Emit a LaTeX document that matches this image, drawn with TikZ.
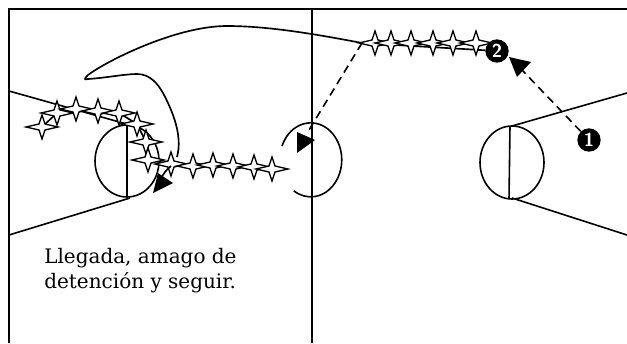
\documentclass[tikz,border=0pt]{standalone}
\usepackage{fontspec}
\setmainfont{DejaVu Serif}

\def\SW{16}   % star half width
\def\SH{12}   % star half height
\def\SI{3}    % star inner corner

\tikzset{
	court/.style={line width=1.5pt},
	keyline/.style={line width=1.2pt},
	dribble/.style={line width=1.25pt},
	dashmove/.style={line width=1.2pt, dash pattern=on 6pt off 4pt},
	tipfill/.style={fill=black, draw=none},
	player/.style={circle, fill=black, inner sep=0pt, minimum size=17.5pt, text=white, font=\sffamily\bfseries\fontsize{14pt}{14pt}\selectfont},
	spark/.pic={
		\draw[line width=1pt, fill=white] (-\SW,0) -- (-\SI,-\SI) -- (0,-\SH) -- (\SI,-\SI) -- (\SW,0)
		-- (\SI,\SI) -- (0,\SH) -- (-\SI,\SI) -- cycle;
	}
}

\begin{document}
\begin{tikzpicture}[x=0.75pt, y=-0.75pt]
	
	% -------------------------------------------------
	% 1. Page size
	% -------------------------------------------------
	\useasboundingbox (0,0) rectangle (627,343);
	
	% -------------------------------------------------
	% 2. Court
	% -------------------------------------------------
	\draw[court] (9,343) -- (9,9) -- (627,9);
	\draw[court] (312,9) -- (312,343);
	
	% left key
	\draw[keyline] (9,91) -- (130,125);
	\draw[keyline] (130,198) -- (9,235);
	\draw[keyline] (127,125) -- (127,197);
	\draw[keyline] (127,161) ellipse (32 and 36);
	
	% right key
	\draw[keyline] (627,93) -- (512,126);
	\draw[keyline] (627,235) -- (512,198);
	\draw[keyline] (510,126) -- (509,199);
	\draw[keyline] (512,162.5) ellipse (32 and 36.5);
	
	% centre circle
	\draw[keyline] (282,146) arc[start angle=202, end angle=483, x radius=31, y radius=37];
	
	% -------------------------------------------------
	% 3. Players and reference points
	% -------------------------------------------------
	\node[player] (P1) at (589,140) {1};
	\node[player] (P2) at (497,51) {2};
	\coordinate (Turn) at (362,43);
	\coordinate (Mid) at (309,130);
	\coordinate (CurveEnd) at (177,157);
	\coordinate (TipOne) at (522,70);
	
	% -------------------------------------------------
	% 4. Dribble
	% -------------------------------------------------
	\draw[dribble] (Turn) -- (P2);
	\draw[dribble] (Turn) .. controls (320,35) and (270,26) .. (227,26)
	.. controls (175,26) and (105,62) .. (88,75)
	.. controls (84,79) and (84,80) .. (88,79)
	.. controls (105,78) and (125,74) .. (137,74)
	.. controls (150,74) and (158,84) .. (163,93)
	.. controls (172,110) and (183,135) .. (CurveEnd);
	\draw[dribble] (42,127) -- (57,113) -- (76,109) -- (98,111) -- (119,113) -- (137,124)
	-- (146,142) -- (148,160) -- (171,164) -- (193,166) -- (213,165) -- (233,166) -- (254,167) -- (272,169);
	
	\foreach \px/\py in {42/127, 57/113, 76/109, 98/111, 119/113, 137/124, 146/142, 148/160,
		171/164, 193/166, 213/165, 233/166, 254/167, 272/169,
		375/43, 391/43, 411/43, 433/43, 453/43, 476/43}
		\pic at (\px,\py) {spark};
	
	% -------------------------------------------------
	% 5. Dashed moves and arrow heads
	% -------------------------------------------------
	\draw[dashmove] (Turn) -- (Mid);
	\draw[dashmove] (P1) -- (TipOne);
	\draw[dribble] (160,180) .. controls (164,173) and (166,170) .. (171,166);
	\fill[tipfill] (509,57) -- (531,62) -- (517,77) -- cycle;
	\fill[tipfill] (315,140) -- (297,132) -- (297,153) -- cycle;
	\fill[tipfill] (173,183) -- (158,173) -- (153,193) -- cycle;
	
	% -------------------------------------------------
	% 6. Caption
	% -------------------------------------------------
	\node[anchor=north west, inner sep=0pt, align=left, font=\fontsize{15pt}{19pt}\selectfont] (Caption) at (44,248)
	{Llegada, amago de\\detención y seguir.};
	
\end{tikzpicture}
\end{document}
